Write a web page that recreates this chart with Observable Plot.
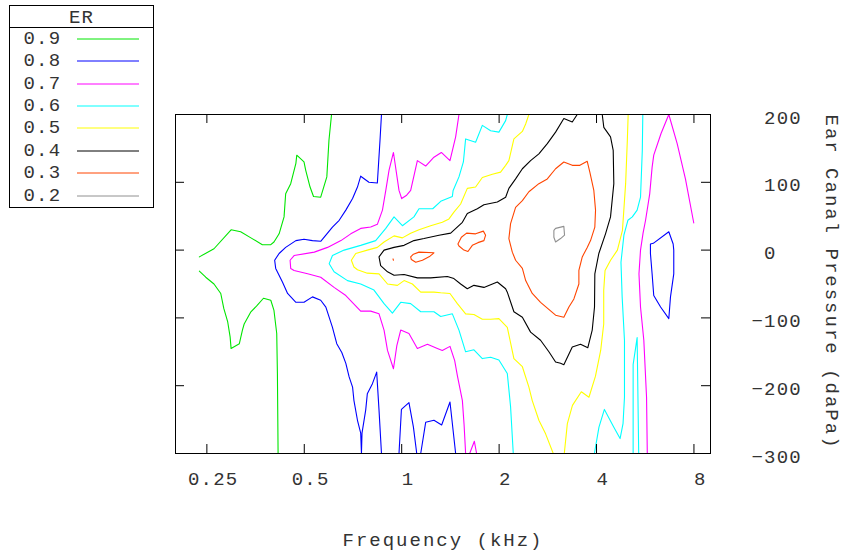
<!DOCTYPE html>
<html>
<head>
<meta charset="utf-8">
<script src="https://cdn.jsdelivr.net/npm/d3@7"></script>
<script src="https://cdn.jsdelivr.net/npm/@observablehq/plot@0.6"></script>
<style>
  html, body { margin: 0; padding: 0; background: #fff; }
  #chart { position: relative; width: 844px; height: 554px; }
</style>
</head>
<body>
<div id="chart"></div>
<script>
// Energy reflectance (ER) contour levels and their line colours
const levels = [0.9, 0.8, 0.7, 0.6, 0.5, 0.4, 0.3, 0.2];
const levelColors = ["#00e600", "#0000ff", "#ff00ff", "#00ffff", "#ffff00", "#000000", "#ff4500", "#909090"];

// Axis ticks: frequency (kHz, log scale) and ear canal pressure (daPa)
const xTicks = [0.25, 0.5, 1, 2, 4, 8];
const yTicks = [200, 100, 0, -100, -200, -300];

// Axis titles
const xTitle = "Frequency (kHz)";
const yTitle = "Ear Canal Pressure (daPa)";

// Contour paths, one list of segments per level; each point is [kHz, daPa]
const er90 = [
  [[0.237,-10],[0.263,2],[0.297,30],[0.318,27],[0.342,18],[0.371,8],[0.394,8],[0.403,12],[0.418,24],[0.433,49],[0.438,83],[0.454,98],[0.471,128],[0.474,140],[0.499,130],[0.505,118],[0.521,93],[0.534,79],[0.562,78],[0.587,108],[0.596,162],[0.607,200]],
  [[0.237,-31],[0.248,-40],[0.263,-50],[0.276,-64],[0.282,-86],[0.290,-106],[0.295,-128],[0.297,-145],[0.315,-138],[0.322,-118],[0.326,-109],[0.342,-91],[0.357,-82],[0.374,-71],[0.394,-74],[0.403,-89],[0.411,-123],[0.413,-182],[0.415,-300]]
];
const er80 = [
  [[0.866,200],[0.857,162],[0.841,99],[0.792,100],[0.747,109],[0.730,93],[0.705,76],[0.672,59],[0.641,44],[0.611,34],[0.583,22],[0.562,13],[0.530,14],[0.499,16],[0.471,14],[0.438,4],[0.418,-5],[0.405,-15],[0.408,-27],[0.428,-47],[0.444,-64],[0.471,-77],[0.499,-77],[0.530,-69],[0.562,-74],[0.583,-84],[0.611,-114],[0.630,-138],[0.653,-151],[0.672,-167],[0.688,-187],[0.705,-202],[0.712,-222],[0.730,-251],[0.747,-270],[0.751,-300],[0.754,-270],[0.774,-236],[0.783,-212],[0.812,-197],[0.837,-180],[0.851,-236],[0.866,-300]],
  [[0.981,-300],[0.998,-235],[1.053,-225],[1.087,-261],[1.113,-300]],
  [[1.145,-300],[1.186,-254],[1.258,-251],[1.329,-258],[1.410,-224],[1.468,-300]],
  [[5.87,9],[5.99,10],[6.69,27],[6.90,9],[6.93,0],[6.93,-35],[6.77,-69],[6.69,-101],[6.31,-84],[6.01,-67],[5.94,-35],[5.87,-5],[5.87,9]]
];
const er70 = [
  [[1.503,200],[1.468,167],[1.410,132],[1.326,144],[1.258,137],[1.186,124],[1.118,132],[1.066,88],[1.036,81],[1.000,76],[0.981,88],[0.943,144],[0.914,118],[0.893,88],[0.872,59],[0.841,38],[0.802,34],[0.747,32],[0.696,24],[0.649,14],[0.590,4],[0.537,-3],[0.465,-8],[0.452,-15],[0.454,-27],[0.465,-30],[0.512,-35],[0.562,-40],[0.618,-55],[0.672,-67],[0.747,-90],[0.802,-90],[0.851,-94],[0.882,-118],[0.904,-148],[0.943,-175],[0.966,-141],[0.993,-118],[1.053,-123],[1.118,-145],[1.201,-139],[1.289,-145],[1.335,-148],[1.410,-142],[1.458,-163],[1.486,-185],[1.540,-222],[1.559,-258],[1.576,-300]],
  [[1.622,-300],[1.677,-282],[1.704,-300]],
  [[5.74,-300],[5.71,-217],[5.60,-133],[5.47,-84],[5.41,-35],[5.47,0],[5.57,25],[5.67,44],[5.84,83],[5.94,122],[6.01,140],[6.33,172],[6.69,200],[7.10,157],[7.53,105],[7.99,40]]
];
const er60 = [
  [[2.120,200],[2.095,191],[1.997,174],[1.883,176],[1.775,184],[1.692,159],[1.576,164],[1.551,130],[1.503,108],[1.442,88],[1.434,79],[1.320,72],[1.247,61],[1.131,61],[1.091,49],[1.005,36],[0.947,49],[0.893,32],[0.831,14],[0.747,7],[0.664,0],[0.611,-8],[0.597,-20],[0.618,-32],[0.680,-45],[0.747,-50],[0.821,-59],[0.882,-79],[0.936,-93],[0.993,-77],[1.066,-79],[1.145,-91],[1.258,-91],[1.320,-98],[1.434,-94],[1.503,-118],[1.576,-150],[1.672,-147],[1.775,-160],[1.883,-158],[1.997,-162],[2.120,-182],[2.170,-231],[2.212,-300]],
  [[5.56,200],[5.54,147],[5.47,78],[5.34,59],[5.16,49],[5.00,44],[4.86,22],[4.76,-18],[4.80,-69],[4.88,-133],[4.88,-217],[4.83,-256],[4.73,-278],[4.52,-261],[4.23,-235],[4.07,-261],[3.94,-300]],
  [[5.19,-300],[5.19,-169],[5.34,-129],[5.40,-300]]
];
const er50 = [
  [[2.472,200],[2.416,186],[2.360,175],[2.222,164],[2.144,132],[2.095,125],[2.021,115],[1.906,112],[1.775,107],[1.692,93],[1.595,91],[1.521,68],[1.450,56],[1.400,46],[1.335,41],[1.229,36],[1.131,30],[1.066,25],[1.005,18],[0.947,21],[0.882,12],[0.841,4],[0.783,0],[0.721,-5],[0.699,-15],[0.712,-25],[0.730,-29],[0.783,-34],[0.851,-35],[0.904,-50],[0.970,-52],[1.017,-45],[1.079,-50],[1.145,-62],[1.258,-62],[1.320,-63],[1.410,-64],[1.486,-79],[1.576,-94],[1.672,-95],[1.775,-102],[1.883,-102],[1.997,-101],[2.120,-114],[2.222,-160],[2.360,-172],[2.472,-202],[2.532,-222],[2.654,-251],[2.784,-271],[2.940,-300]],
  [[5.01,200],[4.98,162],[4.92,98],[4.81,29],[4.64,0],[4.42,-15],[4.25,-30],[4.21,-59],[4.21,-109],[4.12,-148],[3.97,-186],[3.79,-217],[3.59,-209],[3.37,-229],[3.25,-256],[3.18,-300]]
];
const er40 = [
  [[3.487,200],[3.366,189],[3.170,194],[2.989,174],[2.818,157],[2.654,142],[2.502,132],[2.360,120],[2.249,105],[2.144,91],[2.095,78],[1.975,71],[1.795,67],[1.713,61],[1.595,54],[1.540,41],[1.417,25],[1.304,22],[1.172,17],[1.091,14],[1.017,7],[0.947,4],[0.882,0],[0.851,-10],[0.861,-23],[0.904,-32],[0.947,-37],[1.017,-36],[1.118,-41],[1.229,-41],[1.384,-39],[1.450,-42],[1.521,-50],[1.595,-57],[1.672,-52],[1.795,-55],[1.975,-47],[2.095,-57],[2.120,-62],[2.222,-91],[2.360,-99],[2.502,-121],[2.686,-133],[2.850,-150],[2.989,-165],[3.097,-167],[3.170,-169],[3.366,-143],[3.570,-139],[3.760,-144],[3.879,-118],[3.943,-84],[3.952,-35],[4.066,-5],[4.264,24],[4.419,49],[4.524,98],[4.504,147],[4.419,167],[4.213,181],[4.166,200]]
];
const er30 = [
  [[3.170,130],[3.366,125],[3.553,125],[3.744,131],[3.814,115],[3.924,88],[3.972,59],[3.952,34],[3.833,14],[3.744,4],[3.614,-10],[3.528,-30],[3.528,-50],[3.405,-72],[3.286,-84],[3.170,-99],[2.989,-96],[2.686,-77],[2.532,-64],[2.416,-45],[2.360,-27],[2.249,-15],[2.197,-3],[2.144,17],[2.170,39],[2.249,63],[2.360,73],[2.472,86],[2.654,98],[2.818,105],[2.989,120],[3.170,130]],
  [[1.492,9],[1.529,19],[1.587,25],[1.692,24],[1.788,28],[1.817,22],[1.795,14],[1.720,11],[1.653,7],[1.602,-2],[1.557,0],[1.503,6],[1.492,9]],
  [[1.066,-10],[1.087,-6],[1.131,-3],[1.258,-4],[1.223,-9],[1.159,-15],[1.105,-18],[1.071,-14],[1.066,-10]],
  [[0.940,-13],[0.943,-15]]
];
const er20 = [
  [[2.953,29],[2.989,32],[3.170,35],[3.186,22],[3.097,17],[2.989,12],[2.953,19],[2.953,29]]
];

const contourSets = [er90, er80, er70, er60, er50, er40, er30, er20];

// Flatten into one table: one row per vertex, tagged with level and segment id
const rows = [];
contourSets.forEach((segments, i) => {
  segments.forEach((seg, j) => {
    seg.forEach(([f, p]) => rows.push({level: levels[i], id: `${levels[i]}-${j}`, f, p}));
  });
});

const FONT = "'Liberation Mono', 'DejaVu Sans Mono', monospace";
const W = 844, H = 554;
const mL = 175, mR = 134, mT = 114, mB = 101;
const frameW = W - mL - mR, frameH = H - mT - mB;
const tickLen = 9;

const chart = Plot.plot({
  width: W,
  height: H,
  marginLeft: mL,
  marginRight: mR,
  marginTop: mT,
  marginBottom: mB,
  style: {fontFamily: FONT, fontSize: "19px", letterSpacing: "1.2px", whiteSpace: "pre", color: "#333", background: "#fff", overflow: "visible"},
  x: {type: "log", domain: [0.2, 9], axis: null},
  y: {domain: [-300, 200], axis: null},
  color: {type: "ordinal", domain: levels, range: levelColors},
  marks: [
    Plot.line(rows, {x: "f", y: "p", z: "id", stroke: "level", strokeWidth: 1.1, curve: "linear"}),
    Plot.frame({stroke: "#000", strokeWidth: 1}),
    // inward tick marks on all four sides
    Plot.tickX(xTicks, {x: d => d, stroke: "#000", insetTop: frameH - tickLen}),
    Plot.tickX(xTicks, {x: d => d, stroke: "#000", insetBottom: frameH - tickLen}),
    Plot.tickY(yTicks, {y: d => d, stroke: "#000", insetRight: frameW - tickLen}),
    Plot.tickY(yTicks, {y: d => d, stroke: "#000", insetLeft: frameW - tickLen}),
    // tick labels
    Plot.text(xTicks, {x: d => d, text: d => " " + d, frameAnchor: "bottom", lineAnchor: "middle", dy: 25, textAnchor: "middle"}),
    Plot.text(yTicks, {y: d => d, text: d => (d < 0 ? "\u2212" : " ") + Math.abs(d), frameAnchor: "right", lineAnchor: "middle", dx: 41, dy: 3, textAnchor: "start"}),
    // axis titles
    Plot.text([xTitle], {frameAnchor: "bottom", lineAnchor: "middle", textAnchor: "middle", dy: 86}),
    Plot.text([yTitle], {frameAnchor: "right", lineAnchor: "middle", textAnchor: "middle", dx: 122, dy: -2, rotate: 90})
  ]
});

document.getElementById("chart").appendChild(chart);

const svg = d3.select(chart);

// Axis titles are set a little wider than the tick labels
svg.selectAll("text").filter(function() {
  return this.textContent === xTitle || this.textContent === yTitle;
}).style("letter-spacing", "2px");

// Boxed legend in the top-left corner
const lg = svg.append("g").attr("font-family", FONT).attr("font-size", 19).attr("fill", "#333");
const box = {x: 9.5, y: 5.5, w: 144, h: 202, header: 22};
lg.append("rect").attr("x", box.x).attr("y", box.y).attr("width", box.w).attr("height", box.h)
  .attr("fill", "#fff").attr("stroke", "#000");
lg.append("line").attr("x1", box.x).attr("x2", box.x + box.w)
  .attr("y1", box.y + box.header).attr("y2", box.y + box.header).attr("stroke", "#000");
lg.append("text").attr("x", box.x + box.w / 2).attr("y", box.y + box.header / 2 + 1)
  .attr("text-anchor", "middle").attr("dominant-baseline", "central").text("ER");
const rowStep = 22.43, firstRow = 38.7;
levels.forEach((lv, i) => {
  const yy = Math.round(firstRow + i * rowStep);
  lg.append("text").attr("x", 23.5).attr("y", yy).attr("text-anchor", "start")
    .attr("dominant-baseline", "central").text(lv.toFixed(1));
  lg.append("line").attr("x1", 77).attr("x2", 139).attr("y1", yy).attr("y2", yy)
    .attr("stroke", levelColors[i]).attr("stroke-width", 1);
});
</script>
</body>
</html>
